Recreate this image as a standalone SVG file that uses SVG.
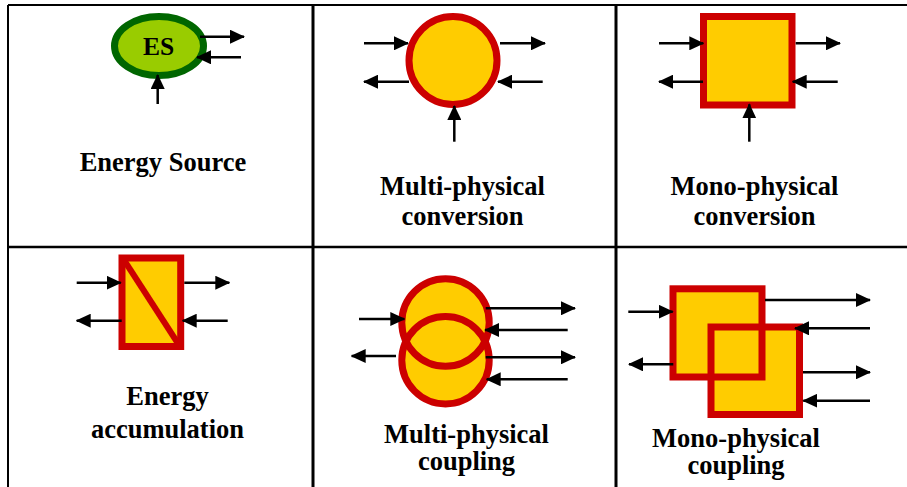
<svg xmlns="http://www.w3.org/2000/svg" width="907" height="487" viewBox="0 0 907 487">
<style>
.grid{stroke:#000;fill:none}
.lbl{font-family:"Liberation Serif","Times New Roman",serif;font-weight:bold;font-size:26.5px;fill:#000;text-anchor:middle}
.yel{fill:#FFCC00}
.red{fill:none;stroke:#CC0000;stroke-width:7}
.arr{stroke:#000;stroke-width:2.5;fill:none;marker-end:url(#ah)}
</style>
<defs>
<marker id="ah" viewBox="0 0 15 14" markerWidth="15" markerHeight="14" markerUnits="userSpaceOnUse" refX="14" refY="7" orient="auto">
<path d="M0,0 L15,7 L0,14 z" fill="#000"/>
</marker>
</defs>
<rect width="907" height="487" fill="#fff"/>
<g id="grid" class="grid">
<line x1="8" y1="5" x2="907" y2="5" stroke-width="2"/>
<line x1="8" y1="5" x2="8" y2="487" stroke-width="2"/>
<line x1="313" y1="5" x2="313" y2="487" stroke-width="3"/>
<line x1="616" y1="5" x2="616" y2="487" stroke-width="3"/>
<line x1="8" y1="247" x2="907" y2="247" stroke-width="2.5"/>
</g>
<g id="energy-source">
<ellipse cx="159" cy="46" rx="44.5" ry="29.5" fill="#99CC00" stroke="#006600" stroke-width="7"/>
<text x="158.5" y="55" class="lbl" font-size="25.5px" style="font-size:25.5px">ES</text>
<text x="163" y="171" class="lbl">Energy Source</text>
</g>
<g id="multi-physical-conversion">
<circle cx="453" cy="60.5" r="44" class="yel"/>
<circle cx="453" cy="60.5" r="44" class="red"/>
<text x="462.5" y="195" class="lbl">Multi-physical</text>
<text x="462.5" y="225" class="lbl">conversion</text>
</g>
<g id="mono-physical-conversion">
<rect x="703.5" y="16.5" width="88.5" height="88.5" class="yel"/>
<rect x="703.5" y="16.5" width="88.5" height="88.5" class="red"/>
<text x="754.5" y="194.5" class="lbl">Mono-physical</text>
<text x="754.5" y="225" class="lbl">conversion</text>
</g>
<g id="energy-accumulation">
<rect x="122" y="258" width="58.7" height="88.5" class="yel"/>
<line x1="124" y1="260" x2="179" y2="345" stroke="#CC0000" stroke-width="6"/>
<rect x="122" y="258" width="58.7" height="88.5" class="red"/>
<text x="167.5" y="405" class="lbl">Energy</text>
<text x="167.5" y="437.5" class="lbl">accumulation</text>
</g>
<g id="multi-physical-coupling">
<circle cx="445.5" cy="322.5" r="43.7" class="yel"/>
<circle cx="445.5" cy="360.2" r="43.7" class="yel"/>
<circle cx="445.5" cy="322.5" r="43.7" class="red"/>
<circle cx="445.5" cy="360.2" r="43.7" class="red"/>
<text x="466.5" y="443" class="lbl">Multi-physical</text>
<text x="466.5" y="470" class="lbl">coupling</text>
</g>
<g id="mono-physical-coupling">
<rect x="673" y="288.8" width="89" height="88.2" class="yel"/>
<rect x="711" y="327" width="88.5" height="87.5" class="yel"/>
<rect x="673" y="288.8" width="89" height="88.2" class="red" stroke-width="7.5"/>
<rect x="711" y="327" width="88.5" height="87.5" class="red" stroke-width="7.5"/>
<text x="736" y="447" class="lbl">Mono-physical</text>
<text x="736" y="473.5" class="lbl">coupling</text>
</g>
<g id="connectors">
<line x1="200" y1="36.7" x2="244" y2="36.7" class="arr"/>
<line x1="241" y1="57.3" x2="197" y2="57.3" class="arr"/>
<line x1="157.7" y1="104" x2="157.7" y2="75" class="arr"/>

<line x1="364" y1="43.3" x2="408" y2="43.3" class="arr"/>
<line x1="500" y1="43.3" x2="545" y2="43.3" class="arr"/>
<line x1="409" y1="81.7" x2="364" y2="81.7" class="arr"/>
<line x1="542.7" y1="81.7" x2="498" y2="81.7" class="arr"/>
<line x1="454.3" y1="141.7" x2="454.3" y2="106" class="arr"/>

<line x1="659" y1="43.3" x2="703.3" y2="43.3" class="arr"/>
<line x1="795.7" y1="43.3" x2="840" y2="43.3" class="arr"/>
<line x1="703" y1="81.7" x2="659" y2="81.7" class="arr"/>
<line x1="837.7" y1="81.7" x2="792.7" y2="81.7" class="arr"/>
<line x1="749.3" y1="141.7" x2="749.3" y2="104.3" class="arr"/>

<line x1="76.7" y1="282.7" x2="120.7" y2="282.7" class="arr"/>
<line x1="184.3" y1="282.7" x2="229.3" y2="282.7" class="arr"/>
<line x1="121.7" y1="320.7" x2="76.7" y2="320.7" class="arr"/>
<line x1="227.7" y1="320.7" x2="182.7" y2="320.7" class="arr"/>

<line x1="359" y1="319" x2="404.3" y2="319" class="arr"/>
<line x1="396" y1="356" x2="351.7" y2="356" class="arr"/>
<line x1="485.7" y1="308.3" x2="575" y2="308.3" class="arr"/>
<line x1="567.7" y1="330" x2="485" y2="330" class="arr"/>
<line x1="485.7" y1="357.3" x2="575" y2="357.3" class="arr"/>
<line x1="567.7" y1="379.3" x2="486.7" y2="379.3" class="arr"/>

<line x1="628.3" y1="311.7" x2="672.7" y2="311.7" class="arr"/>
<line x1="673.3" y1="364.3" x2="629" y2="364.3" class="arr"/>
<line x1="765" y1="300" x2="870" y2="300" class="arr"/>
<line x1="870" y1="328.3" x2="795" y2="328.3" class="arr"/>
<line x1="803" y1="372.3" x2="870" y2="372.3" class="arr"/>
<line x1="870" y1="400.7" x2="803.3" y2="400.7" class="arr"/>
</g>
</svg>
